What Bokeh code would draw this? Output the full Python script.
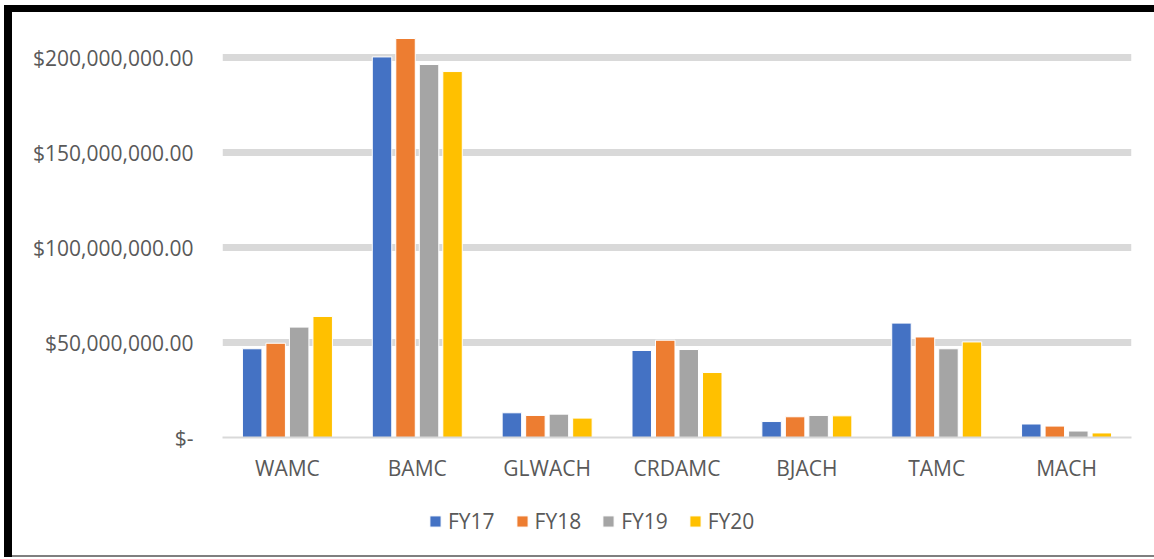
from bokeh.plotting import figure
from bokeh.layouts import column, row
from bokeh.models import (ColumnDataSource, FactorRange, Range1d, FixedTicker,
                          Legend, LegendItem, Div)
from bokeh.transform import dodge
from bokeh.embed import file_html
from bokeh.resources import INLINE

# Budget by facility and fiscal year (USD)
facilities = ["WAMC", "BAMC", "GLWACH", "CRDAMC", "BJACH", "TAMC", "MACH"]
years = ["FY17", "FY18", "FY19", "FY20"]
fy17 = [46.7e6, 200.3e6, 13.0e6, 45.8e6, 8.4e6, 60.2e6, 7.1e6]
fy18 = [49.6e6, 210.0e6, 11.6e6, 51.2e6, 10.9e6, 52.9e6, 6.0e6]
fy19 = [58.1e6, 196.3e6, 12.3e6, 46.3e6, 11.6e6, 46.7e6, 3.4e6]
fy20 = [63.7e6, 192.6e6, 10.2e6, 34.2e6, 11.4e6, 50.3e6, 2.4e6]
y_ticks = [0, 50e6, 100e6, 150e6, 200e6]
y_tick_labels = ["$-", "$50,000,000.00", "$100,000,000.00",
                 "$150,000,000.00", "$200,000,000.00"]

colors = ["#4472C4", "#ED7D31", "#A5A5A5", "#FFC000"]
FONT = "Open Sans"
TEXT = "#595959"

source = ColumnDataSource(dict(facility=facilities, FY17=fy17, FY18=fy18,
                               FY19=fy19, FY20=fy20))

step = 0.181
width = 0.15


def add_bars(fig):
    rs = []
    for i, (yr, c) in enumerate(zip(years, colors)):
        rs.append(fig.vbar(x=dodge("facility", (i - 1.5) * step, range=fig.x_range),
                           top=yr, width=width, source=source, fill_color=c,
                           line_color="white", line_width=1))
    return rs


# ---- main chart -------------------------------------------------------------
p = figure(width=1142, height=483, output_backend="svg", toolbar_location=None,
           x_range=FactorRange(*facilities), y_range=Range1d(0, 220e6),
           min_border_left=210, min_border_right=23, min_border_top=7,
           min_border_bottom=58, background_fill_color="white",
           border_fill_color="white", outline_line_color=None)
add_bars(p)

# y axis: accounting-style labels, no line/ticks
p.yaxis.ticker = FixedTicker(ticks=y_ticks)
p.yaxis.major_label_overrides = {t: lab for t, lab in zip(y_ticks, y_tick_labels)}
p.yaxis.axis_line_color = None
p.yaxis.major_tick_line_color = None
p.yaxis.minor_tick_line_color = None
p.yaxis.major_label_standoff = 23
p.yaxis.major_label_text_font = FONT
p.yaxis.major_label_text_font_size = "21px"
p.yaxis.major_label_text_color = TEXT

# category axis
p.xaxis.axis_line_color = "#D9D9D9"
p.xaxis.axis_line_width = 2
p.xaxis.major_tick_line_color = None
p.xaxis.minor_tick_line_color = None
p.xaxis.major_label_standoff = 10
p.xaxis.major_label_text_font = FONT
p.xaxis.major_label_text_font_size = "21px"
p.xaxis.major_label_text_color = TEXT

p.xgrid.grid_line_color = None
p.ygrid.ticker = FixedTicker(ticks=y_ticks[1:])
p.ygrid.grid_line_color = "#D9D9D9"
p.ygrid.grid_line_width = 7

# ---- legend strip (its bar renderers lie outside the visible window) --------
pl = figure(width=1142, height=60, output_backend="svg", toolbar_location=None,
            x_range=FactorRange(*facilities), y_range=Range1d(300e6, 400e6),
            x_axis_type=None, y_axis_type=None, min_border=0,
            background_fill_color="white", border_fill_color="white",
            outline_line_color=None)
pl.xgrid.visible = False
pl.ygrid.visible = False
swatches = add_bars(pl)
legend = Legend(items=[LegendItem(label=yr, renderers=[r]) for yr, r in zip(years, swatches)],
                orientation="horizontal", location=(206, 20),
                glyph_width=14, glyph_height=14, label_standoff=6, spacing=20,
                padding=0, margin=0, border_line_color=None,
                background_fill_alpha=0, label_text_font=FONT,
                label_text_font_size="21px", label_text_color=TEXT,
                label_height=20)
pl.add_layout(legend, "center")

# ---- page frame: heavy black top/left edges, thin grey bottom edge ----------
def block(w, h, color):
    return Div(text="", width=w, height=h, margin=0,
               styles={"background-color": color})

page = column(
    block(1154, 5, "white"),
    row(block(4, 552, "white"),
        column(block(1150, 7, "black"),
               row(block(8, 543, "black"), column(p, pl, spacing=0), spacing=0),
               row(block(8, 2, "black"), block(1142, 2, "#7F7F7F"), spacing=0),
               spacing=0),
        spacing=0),
    spacing=0)

open("out.html", "w").write(file_html(page, INLINE))
